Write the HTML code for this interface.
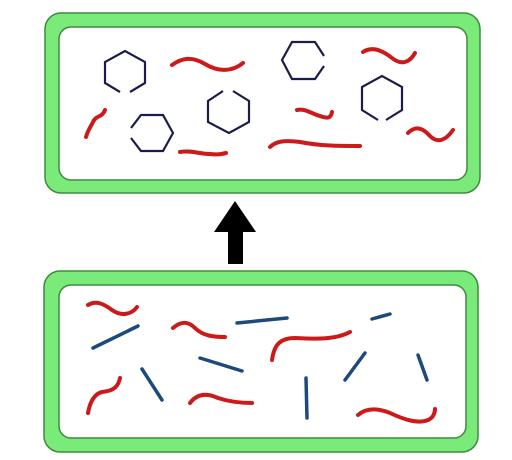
<!DOCTYPE html>
<html><head><meta charset="utf-8"><style>
html,body{margin:0;padding:0;background:#fff;width:512px;height:460px;overflow:hidden}
</style></head><body>
<svg width="512" height="460" viewBox="0 0 512 460">
<g>
<rect x="45" y="13" width="435" height="180" rx="16" fill="#7aea7a" stroke="#3c8c3c" stroke-width="1.5"/>
<rect x="59" y="27" width="408" height="153" rx="12" fill="#fff" stroke="#3c8c3c" stroke-width="1.5"/>
<g fill="none" stroke="#1c1c4c" stroke-width="2.2">
<polyline points="120,92 105,83 105,62 125,51 145,62 145,83 130,92"/>
<polyline points="131,128 141,115 163,115 173,133 163,151 141,151 131,138"/>
<polyline points="233,91 249,101 249,122 229,133 208,122 208,101 223,91"/>
<polyline points="324,56 315,42 292,42 282,60 292,79 315,79 324,66"/>
<polyline points="378,120 362,110 362,87 382,76 402,87 402,110 386,120"/>
</g>
<g fill="none" stroke="#cc1a1a" stroke-width="4" stroke-linecap="round" stroke-linejoin="round">
<path d="M172,65 C182,58 192,56 205,64 C218,72 232,72 243,63"/>
<path d="M363,52 C372,46 382,50 392,58 C402,66 410,62 415,53"/>
<path d="M105,110 C102,118 96,115 93,122 C90,128 88,130 86,137"/>
<path d="M297,110 C305,108 312,114 320,116 C328,119 331,118 332,112"/>
<path d="M180,152 C190,150 200,154 210,154 C218,155 222,154 226,153"/>
<path d="M270,147 C276,141 285,140 300,142 C320,146 340,146 360,146"/>
<path d="M408,133 C415,126 422,127 430,136 C438,144 446,140 453,130"/>
</g>
</g>
<g>
<polygon points="235,201 256,232 243,232 243,264 228,264 228,232 214,232" fill="#000"/>
</g>
<g>
<rect x="44" y="271" width="434" height="181" rx="16" fill="#7aea7a" stroke="#3c8c3c" stroke-width="1.5"/>
<rect x="59" y="285" width="407" height="153" rx="12" fill="#fff" stroke="#3c8c3c" stroke-width="1.5"/>
<g fill="none" stroke="#cc1a1a" stroke-width="4" stroke-linecap="round" stroke-linejoin="round">
<path d="M88,305 C96,300 104,304 112,310 C122,317 132,314 137,307"/>
<path d="M173,328 C180,322 187,320 195,328 C203,336 214,337 225,337"/>
<path d="M272,360 C274,345 280,338 295,338 C315,339 335,340 350,332"/>
<path d="M88,413 C90,402 94,394 102,392 C112,391 118,388 120,378"/>
<path d="M190,403 C196,395 205,392 218,398 C230,402 242,403 252,403"/>
<path d="M358,415 C365,409 375,407 390,413 C405,420 418,424 428,420 C433,418 435,413 435,409"/>
</g>
<g fill="none" stroke="#1c4a7a" stroke-width="3.5" stroke-linecap="round">
<line x1="93" y1="348" x2="138" y2="326"/>
<line x1="237" y1="323" x2="287" y2="318"/>
<line x1="372" y1="319" x2="390" y2="314"/>
<line x1="200" y1="358" x2="242" y2="371"/>
<line x1="142" y1="369" x2="162" y2="400"/>
<line x1="345" y1="380" x2="365" y2="353"/>
<line x1="418" y1="355" x2="427" y2="380"/>
<line x1="306" y1="378" x2="307" y2="418"/>
</g>
</g>
</svg>
</body></html>
